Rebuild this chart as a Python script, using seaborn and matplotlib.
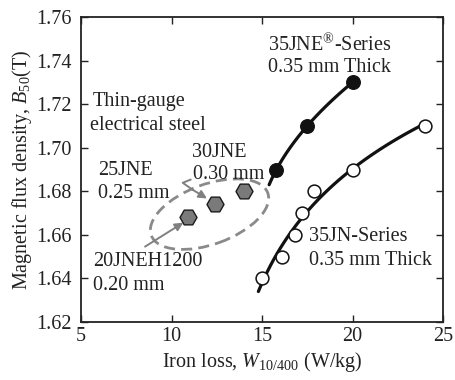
import numpy as np
import pandas as pd
import matplotlib
matplotlib.use("Agg")
import matplotlib.pyplot as plt
import matplotlib.transforms as mtransforms
from matplotlib.patches import Ellipse
import seaborn as sns

# ---------------- data ----------------
jne_loss = [15.8, 17.5, 20.0]          # 35JNE series, W10/400 (W/kg)
jne_b50 = [1.690, 1.710, 1.730]        # B50 (T)

jn_loss = [15.0, 16.1, 16.8, 17.2, 17.9, 20.0, 24.0]   # 35JN series
jn_b50 = [1.640, 1.650, 1.660, 1.670, 1.680, 1.690, 1.710]

thin_names = ["20JNEH1200", "25JNE", "30JNE"]
thin_loss = [10.9, 12.4, 14.0]
thin_b50 = [1.668, 1.674, 1.680]

x_ticks = [5, 10, 15, 20, 25]
y_ticks = [1.62, 1.64, 1.66, 1.68, 1.70, 1.72, 1.74, 1.76]

# ---------------- style ----------------
sns.set_theme(style="ticks")
plt.rcParams["font.family"] = ["Liberation Serif", "DejaVu Serif"]
plt.rcParams["mathtext.fontset"] = "custom"
plt.rcParams["mathtext.rm"] = "Liberation Serif"
plt.rcParams["mathtext.it"] = "Liberation Serif:italic"
FS = 14.5

fig = plt.figure(figsize=(4.56, 3.80), dpi=100)
ax = fig.add_axes([81 / 456, 1 - 322 / 380, (443 - 81) / 456, (322 - 17) / 380])

# fitted trend curves
p_jne = np.polyfit(jne_b50, jne_loss, 2)
yy_jne = np.linspace(1.683, max(jne_b50), 60)
xx_jne = np.polyval(p_jne, yy_jne)

# logarithmic fit B = a + b*ln(W - c) for the 35JN series
jx = np.asarray(jn_loss)
jy = np.asarray(jn_b50)
best = None
for c in np.linspace(8.0, min(jx) - 0.05, 400):
    coef = np.polyfit(np.log(jx - c), jy, 1)
    res = np.sum((np.polyval(coef, np.log(jx - c)) - jy) ** 2)
    if best is None or res < best[0]:
        best = (res, c, coef)
_, c_fit, (b_fit, a_fit) = best
yy_jn = np.linspace(1.634, max(jn_b50), 80)
xx_jn = c_fit + np.exp((yy_jn - a_fit) / b_fit)

sns.lineplot(x=xx_jne, y=yy_jne, sort=False, ax=ax, color="#111111", lw=2.3, estimator=None)
sns.lineplot(x=xx_jn, y=yy_jn, sort=False, ax=ax, color="#111111", lw=2.3, estimator=None)

sns.scatterplot(x=jne_loss, y=jne_b50, ax=ax, color="#111111", edgecolor="#111111",
                s=95, marker="o", linewidth=1, zorder=5)
sns.scatterplot(x=jn_loss, y=jn_b50, ax=ax, color="white", edgecolor="#111111",
                s=85, marker="o", linewidth=1.1, zorder=5)
sns.scatterplot(x=thin_loss, y=thin_b50, ax=ax, color="#7a7a7a", edgecolor="#1a1a1a",
                s=150, marker="H", linewidth=1.0, zorder=5)

ax.set_xlim(5, 25)
ax.set_ylim(1.62, 1.76)
ax.set_xticks(x_ticks)
ax.set_xticklabels([str(v) for v in x_ticks])
ax.set_yticks(y_ticks)
ax.set_yticklabels([f"{v:.2f}" for v in y_ticks])
ax.tick_params(direction="in", top=True, right=True, length=5, width=1.0,
               labelsize=FS, color="#222222", labelcolor="#222222")
ax.tick_params(axis="x", pad=3.5)
ax.tick_params(axis="y", pad=6.5)
for s in ax.spines.values():
    s.set_linewidth(1.3)
    s.set_color("#222222")

ax.set_xlabel(r"Iron loss, $\mathit{W}_{\mathrm{10/400}}$ (W/kg)", fontsize=FS,
              color="#222222", labelpad=3)
ax.set_ylabel(r"Magnetic flux density, $\mathit{B}_{\mathrm{50}}$(T)", fontsize=FS,
              color="#222222", labelpad=2)

# dashed ellipse around thin-gauge grades
ell_trans = fig.dpi_scale_trans + mtransforms.ScaledTranslation(12.1, 1.6695, ax.transData)
ax.add_patch(Ellipse((0, 0), 1.24, 0.60, angle=20, transform=ell_trans, fill=False,
                     edgecolor="#8a8a8a", lw=2.0, linestyle=(0, (4, 2.2)), zorder=3))

# arrows
gray = "#808080"
ax.plot([11.1, 10.62, 11.2], [1.6855, 1.6839, 1.6805], color=gray, lw=1.4, zorder=4,
        solid_capstyle="butt")
ax.annotate("", xy=(11.96, 1.6767), xytext=(11.15, 1.6808),
            arrowprops=dict(arrowstyle="-|>", color=gray, lw=1.4, mutation_scale=12,
                            shrinkA=0, shrinkB=0), zorder=4)
ax.annotate("", xy=(10.65, 1.6656), xytext=(8.54, 1.6546),
            arrowprops=dict(arrowstyle="-|>", color=gray, lw=1.4, mutation_scale=12,
                            shrinkA=0, shrinkB=0), zorder=4)

# labels
tc = "#222222"
labels = [
    (15.35, 1.7445, r"35JNE$^{\mathrm{®}}$-Series"),
    (15.35, 1.7346, "0.35 mm Thick"),
    (5.62, 1.7193, "Thin-gauge"),
    (5.50, 1.7082, "electrical steel"),
    (11.12, 1.6959, "30JNE"),
    (11.20, 1.6855, "0.30 mm"),
    (5.96, 1.6875, "25JNE"),
    (5.96, 1.6768, "0.25 mm"),
    (5.65, 1.6455, "20JNEH1200"),
    (5.65, 1.6348, "0.20 mm"),
    (17.61, 1.6574, "35JN-Series"),
    (17.61, 1.6462, "0.35 mm Thick"),
]
for x, y, t in labels:
    ax.text(x, y, t, fontsize=FS, color=tc, ha="left", va="baseline", zorder=6)

fig.savefig("out.png", dpi=100)
